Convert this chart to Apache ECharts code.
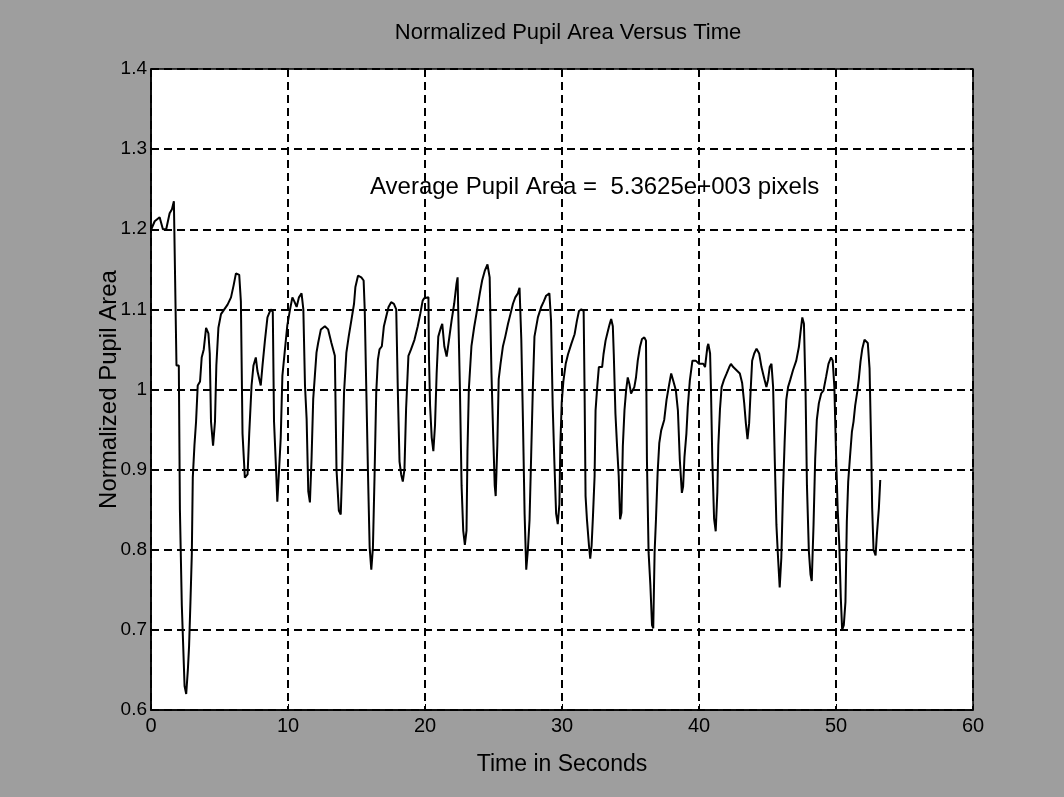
<!DOCTYPE html>
<html><head><meta charset="utf-8">
<script src="https://cdn.jsdelivr.net/npm/echarts@6/dist/echarts.min.js"></script>
<style>html,body{margin:0;padding:0;background:#a0a0a0;}#c{width:1064px;height:797px;}</style>
</head><body><div id="c"></div>
<script>
const timeS = [
0.02,0.27,0.63,0.87,1.11,1.36,1.53,1.67,1.79,1.86,2.03,2.11,2.25,2.45,2.57,2.69,2.78,2.88,2.98,3.05,3.17,3.29,3.41,3.58,3.70,3.85,4.02,4.19,4.29,4.38,4.53,4.67,4.77,4.92,5.11,5.35,5.59,5.84,6.03,6.20,6.44,6.56,6.68,6.85,7.05,7.17,7.34,7.48,7.65,7.77,8.01,8.14,8.31,8.50,8.74,8.89,8.98,9.13,9.22,9.35,9.47,9.59,9.76,9.95,
10.15,10.32,10.46,10.63,10.80,10.99,11.12,11.24,11.36,11.48,11.60,11.72,11.84,11.96,12.08,12.20,12.40,12.69,12.93,13.17,13.42,13.54,13.71,13.85,13.95,14.09,14.26,14.43,14.63,14.82,14.92,15.11,15.35,15.52,15.60,15.72,15.84,15.96,16.08,16.20,16.32,16.44,16.56,16.68,16.85,17.00,17.17,17.34,17.53,17.73,17.90,18.02,18.14,18.26,18.38,18.50,18.62,18.79,18.98,19.23,19.47,19.66,19.83,19.95,
20.25,20.29,20.37,20.49,20.61,20.73,20.85,20.97,21.17,21.26,21.41,21.58,21.75,21.94,22.13,22.30,22.38,22.42,22.55,22.67,22.79,22.91,23.03,23.10,23.20,23.39,23.59,23.76,24.00,24.17,24.36,24.56,24.65,24.72,24.85,24.97,25.09,25.16,25.28,25.38,25.52,25.69,25.86,26.06,26.25,26.42,26.59,26.78,26.90,27.03,27.15,27.27,27.39,27.51,27.63,27.75,27.87,27.99,28.24,28.48,28.67,28.84,29.08,29.20,29.32,29.45,29.57,29.69,29.81,29.88,29.98,
30.10,30.27,30.44,30.68,30.92,31.09,31.24,31.41,31.58,31.65,31.72,31.82,31.97,32.06,32.16,32.26,32.38,32.45,32.57,32.69,32.93,33.03,33.18,33.35,33.47,33.59,33.71,33.78,33.90,34.02,34.14,34.24,34.34,34.44,34.56,34.68,34.80,34.92,35.04,35.16,35.28,35.40,35.53,35.69,35.84,36.01,36.13,36.20,36.32,36.45,36.57,36.66,36.76,36.86,36.98,37.10,37.24,37.46,37.63,37.83,37.97,38.12,38.31,38.46,38.60,38.75,38.84,38.94,39.08,39.18,39.33,39.52,39.76,40.00,
40.32,40.44,40.61,40.68,40.81,40.88,40.97,41.10,41.22,41.34,41.41,41.53,41.65,41.82,42.02,42.21,42.33,42.50,42.74,42.98,43.15,43.30,43.42,43.54,43.66,43.76,43.88,44.03,44.20,44.39,44.56,44.73,44.92,45.04,45.16,45.29,45.41,45.53,45.65,45.77,45.89,46.01,46.13,46.25,46.37,46.50,46.66,46.86,47.10,47.29,47.42,47.54,47.66,47.78,47.88,48.02,48.14,48.23,48.36,48.48,48.60,48.75,48.92,49.09,49.28,49.45,49.64,49.76,49.88,50.00,50.12,50.24,
50.35,50.45,50.57,50.69,50.79,50.89,51.03,51.16,51.28,51.40,51.55,51.67,51.79,51.92,52.08,52.32,52.45,52.57,52.64,52.74,52.89,52.98,53.13,53.23
];
const pupilArea = [
1.20,1.21,1.215,1.20,1.20,1.22,1.225,1.235,1.235,1.03,1.03,0.85,0.73,0.63,0.62,0.65,0.68,0.735,0.795,0.89,0.93,0.96,1.005,1.01,1.04,1.05,1.077,1.07,1.045,0.96,0.93,0.96,1.03,1.077,1.094,1.10,1.106,1.115,1.13,1.145,1.143,1.11,0.945,0.89,0.894,0.945,1.005,1.03,1.04,1.023,1.005,1.03,1.06,1.09,1.10,1.097,0.96,0.90,0.86,0.90,0.94,1.017,1.047,1.08,
1.10,1.115,1.11,1.103,1.115,1.12,1.10,1.005,0.963,0.873,0.859,0.914,0.988,1.017,1.046,1.058,1.075,1.079,1.075,1.058,1.042,0.90,0.849,0.844,0.898,0.996,1.046,1.066,1.087,1.107,1.128,1.142,1.14,1.136,1.10,0.996,0.894,0.803,0.775,0.803,0.894,0.996,1.037,1.05,1.054,1.079,1.091,1.103,1.109,1.107,1.10,0.996,0.91,0.894,0.885,0.90,0.976,1.042,1.05,1.062,1.079,1.095,1.111,1.114,
1.115,1.041,0.98,0.94,0.923,0.955,1.02,1.066,1.078,1.082,1.054,1.041,1.062,1.086,1.107,1.132,1.14,1.103,1.0,0.88,0.824,0.806,0.824,0.923,1.0,1.054,1.078,1.095,1.12,1.136,1.148,1.156,1.158,1.14,1.021,0.947,0.88,0.867,0.931,1.013,1.033,1.054,1.066,1.082,1.095,1.107,1.115,1.12,1.127,1.062,0.96,0.845,0.775,0.80,0.837,0.918,1.0,1.066,1.09,1.103,1.11,1.117,1.12,1.086,0.98,0.906,0.845,0.832,0.857,0.931,0.984,
1.01,1.032,1.044,1.057,1.069,1.086,1.098,1.10,1.098,0.995,0.867,0.838,0.805,0.789,0.805,0.842,0.892,0.974,1.003,1.028,1.028,1.044,1.061,1.073,1.081,1.088,1.079,1.044,0.97,0.929,0.892,0.838,0.846,0.929,0.974,0.999,1.015,1.007,0.995,0.999,1.003,1.015,1.036,1.053,1.063,1.065,1.061,0.912,0.797,0.756,0.706,0.702,0.797,0.838,0.896,0.933,0.949,0.962,0.987,1.007,1.02,1.011,0.999,0.974,0.912,0.871,0.879,0.916,0.945,0.978,1.011,1.036,1.036,1.032,
1.032,1.028,1.053,1.057,1.045,0.995,0.913,0.839,0.823,0.872,0.93,0.975,1.003,1.012,1.02,1.028,1.032,1.028,1.024,1.02,1.008,0.983,0.958,0.938,0.958,0.995,1.036,1.045,1.051,1.045,1.028,1.016,1.003,1.012,1.028,1.032,1.003,0.913,0.831,0.79,0.753,0.79,0.872,0.934,0.987,1.003,1.012,1.024,1.036,1.053,1.073,1.09,1.082,0.995,0.88,0.798,0.769,0.761,0.831,0.913,0.962,0.983,0.995,0.999,1.016,1.032,1.04,1.036,1.003,0.921,0.852,0.806,
0.74,0.70,0.706,0.735,0.835,0.885,0.918,0.947,0.96,0.98,0.997,1.014,1.035,1.051,1.062,1.058,1.026,0.926,0.852,0.80,0.793,0.818,0.852,0.887
];
const xTicks = [0, 10, 20, 30, 40, 50, 60];
const yTicks = [0.6, 0.7, 0.8, 0.9, 1.0, 1.1, 1.2, 1.3, 1.4];
const titleText = 'Normalized Pupil Area Versus Time';
const xName = 'Time in Seconds';
const yName = 'Normalized Pupil Area';
const noteText = 'Average Pupil Area =  5.3625e+003 pixels';

const FONT = "'Liberation Sans', Arial, sans-serif";
const chart = echarts.init(document.getElementById('c'), null, {renderer: 'canvas'});
const grid = {left: 151, top: 69, width: 822, height: 641, show: true, backgroundColor: '#ffffff', borderColor: '#000', borderWidth: 1.5};
const splitStyle = {show: true, lineStyle: {color: '#000', width: 2, type: [8, 5]}};
chart.setOption({
  animation: false,
  backgroundColor: '#9e9e9e',
  title: {text: titleText, left: 563, top: 17, textAlign: 'center',
    textStyle: {fontFamily: FONT, fontSize: 22, fontWeight: 'normal', color: '#000'}},
  grid: grid,
  xAxis: {
    type: 'value', min: xTicks[0], max: xTicks[xTicks.length - 1], interval: xTicks[1] - xTicks[0],
    name: xName, nameLocation: 'middle', nameGap: 43, nameMoveOverlap: false,
    nameTextStyle: {fontFamily: FONT, fontSize: 23, color: '#000'},
    axisLine: {show: true, onZero: false, lineStyle: {color: '#000', width: 1.5}},
    axisTick: {show: true, inside: true, length: 6, lineStyle: {color: '#000'}},
    axisLabel: {fontFamily: FONT, fontSize: 20, color: '#000', margin: 6},
    splitLine: splitStyle
  },
  yAxis: {
    type: 'value', min: yTicks[0], max: yTicks[yTicks.length - 1], interval: 0.1,
    name: yName, nameLocation: 'middle', nameGap: 30, nameMoveOverlap: false,
    nameTextStyle: {fontFamily: FONT, fontSize: 24, color: '#000'},
    axisLine: {show: true, onZero: false, lineStyle: {color: '#000', width: 1.5}},
    axisTick: {show: true, inside: true, length: 6, lineStyle: {color: '#000'}},
    axisLabel: {fontFamily: FONT, fontSize: 19, color: '#000', margin: 4,
      formatter: v => String(Math.round(v * 10) / 10)},
    splitLine: splitStyle
  },
  graphic: [{
    type: 'text', left: 370, top: 175, z: 100,
    style: {text: noteText, font: "24px 'Liberation Sans', Arial, sans-serif", fill: '#000'}
  }],
  series: [{
    type: 'line', data: timeS.map((t, i) => [t, pupilArea[i]]),
    showSymbol: false, symbol: 'none',
    lineStyle: {color: '#000', width: 2}
  }]
});
</script></body></html>
